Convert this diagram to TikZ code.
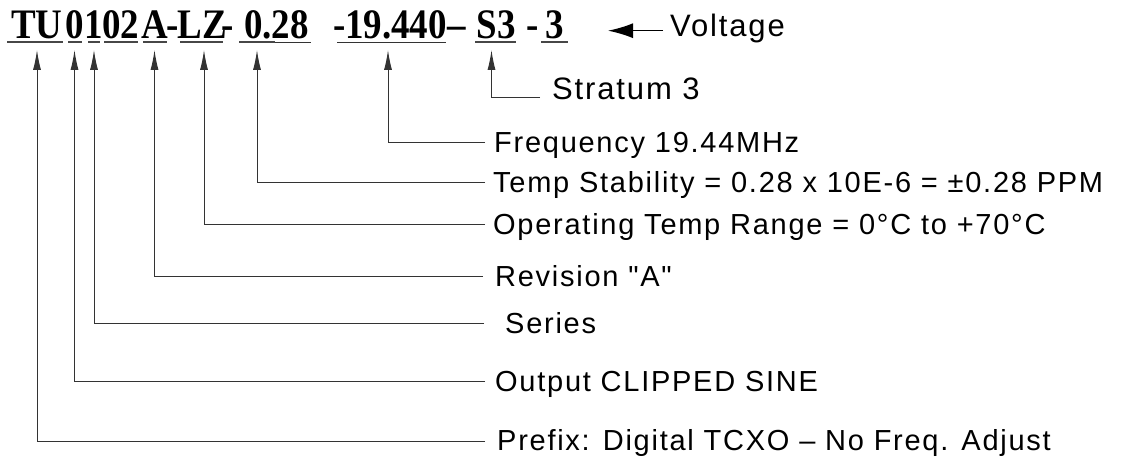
\documentclass[tikz,border=0pt]{standalone}
\usepackage{fontspec}
\usetikzlibrary{arrows.meta}
\newfontfamily\labfont[LetterSpace=6]{Liberation Sans}
\newfontfamily\partfont{Liberation Serif}
\newcommand\pnsq[1]{\scalebox{0.88}[1]{#1}}
\begin{document}
\begin{tikzpicture}[x=1pt,y=-1pt,
  pn/.style={anchor=base, inner sep=0pt, font=\partfont\bfseries\fontsize{42}{46}\selectfont},
  lab/.style={anchor=west, inner ysep=0pt, inner xsep=9pt, text height=19pt, text depth=0pt,
    font=\labfont\fontsize{29}{34}\selectfont},
  labbig/.style={anchor=west, inner ysep=0pt, text depth=0pt,
    font=\labfont\fontsize{31}{36}\selectfont},
  ul/.style={line width=2pt, draw=black!72},
  thinul/.style={line width=1pt, draw=black!80},
  conn/.style={line width=1pt, draw=black!80, -{Latex[length=20pt,width=8pt]}},
  varr/.style={line width=1.4pt, draw=black, -{Latex[length=25pt,width=15pt]}},
]
\useasboundingbox (0,0) rectangle (1128,462);
% part number segments
\node[pn] (pTU) at (37,39) {\pnsq{TU}};
\node[pn] (p0) at (75,39) {\pnsq{0}};
\node[pn] (p1) at (94,39) {\pnsq{1}};
\node[pn] (p02) at (120.5,39) {\pnsq{02}};
\node[pn] (pA) at (155,39) {\pnsq{A}};
\node[pn] (d1) at (172.5,39) {\pnsq{-}};
\node[pn] (pLZ) at (202,39) {\pnsq{LZ}};
\node[pn] (d2) at (228,39) {\pnsq{-}};
\node[pn] (p028) at (276.5,39) {\pnsq{0.28}};
\node[pn] (d3) at (340,39) {\pnsq{-}};
\node[pn] (pF) at (396,39) {\pnsq{19.440}};
\node[pn] (d4) at (457,39) {\pnsq{\textendash}};
\node[pn] (pS3) at (496,39) {\pnsq{S3}};
\node[pn] (d5) at (532.5,39) {\pnsq{-}};
\node[pn] (pV) at (555,39) {\pnsq{3}};
% underlines
\draw[ul] (7,42.5) -- (63,42.5);
\draw[ul] (68,42.5) -- (82,42.5);
\draw[ul] (88,42.5) -- (100,42.5);
\draw[ul] (104,42.5) -- (138,42.5);
\draw[ul] (143,42.5) -- (167,42.5);
\draw[ul] (180,42.5) -- (223,42.5);
\draw[ul] (239,42.5) -- (275,42.5);
\draw[thinul] (275,43) -- (311,43);
\draw[thinul] (337,43) -- (446,43);
\draw[ul] (475,42.5) -- (516,42.5);
\draw[ul] (541,42.5) -- (568,42.5);
% arrow tips
\coordinate (tTU) at (37,50);
\coordinate (t0) at (74.5,50);
\coordinate (t1) at (94,50);
\coordinate (tA) at (154.5,50);
\coordinate (tLZ) at (204,50);
\coordinate (t028) at (257,50);
\coordinate (tF) at (388,50);
\coordinate (tS3) at (491.5,50);
\coordinate (tV) at (608,30.7);
% labels
\node[labbig, text height=4pt, inner xsep=12pt] (lStrat) at (540,98) {Stratum 3};
\node[lab] (lFreq) at (485,143) {Frequency 19.44MHz};
\node[lab, inner xsep=8pt] (lTemp) at (485,183) {Temp Stability = 0.28 x 10E-6 = ±0.28 PPM};
\node[lab, inner xsep=8pt] (lOper) at (485,225) {Operating Temp Range = 0°C to +70°C};
\node[lab, inner xsep=12pt] (lRev) at (483,277) {Revision "A"};
\node[lab, inner xsep=21pt] (lSer) at (484,324) {Series};
\node[lab, inner xsep=10pt] (lOut) at (485,382) {Output CLIPPED SINE};
\node[lab, inner xsep=12pt] (lPre) at (485,441) {Prefix: Digital TCXO \textendash{} No Freq. Adjust};
\node[labbig, text height=12pt, inner xsep=7pt] (lVolt) at (663,30.7) {Voltage};
% connectors
\draw[conn] (lStrat.west) -| (tS3);
\draw[conn] (lFreq.west) -| (tF);
\draw[conn] (lTemp.west) -| (t028);
\draw[conn] (lOper.west) -| (tLZ);
\draw[conn] (lRev.west) -| (tA);
\draw[conn] (lSer.west) -| (t1);
\draw[conn] (lOut.west) -| (t0);
\draw[conn] (lPre.west) -| (tTU);
\draw[varr] (lVolt.west) -- (tV);
\end{tikzpicture}
\end{document}
